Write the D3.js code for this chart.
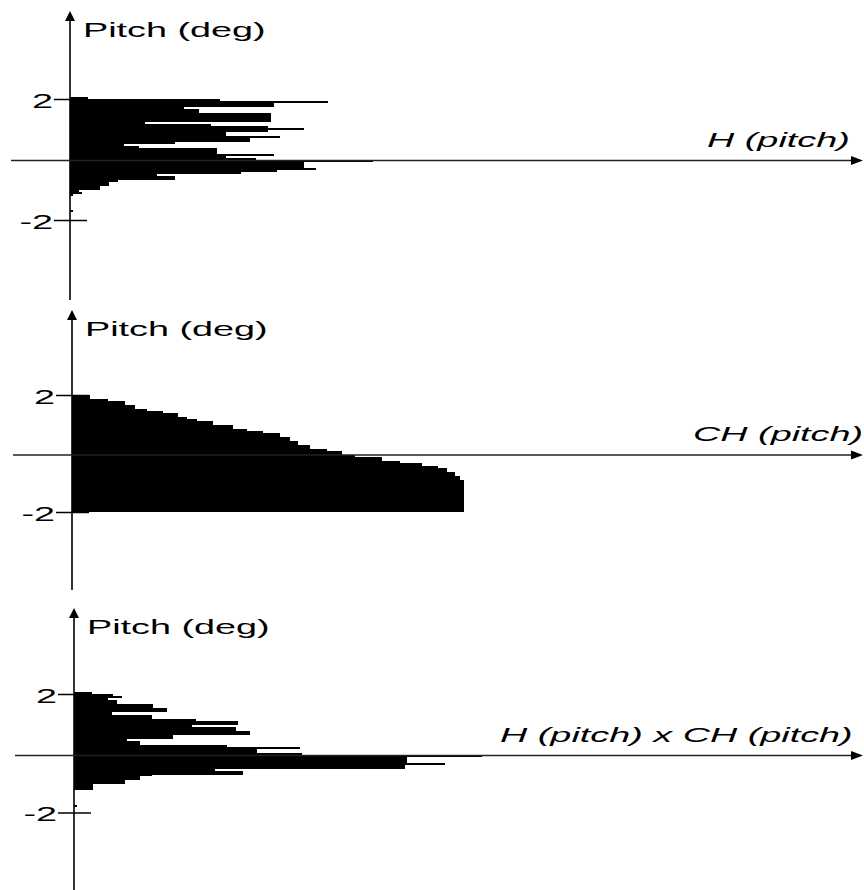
<!DOCTYPE html>
<html>
<head>
<meta charset="utf-8">
<script src="https://cdn.jsdelivr.net/npm/d3@7"></script>
<style>
  body { margin: 0; background: #fff; }
  svg { display: block; }
</style>
</head>
<body>
<svg width="864" height="890"></svg>
<script>
// pitch bins: top edge of each bin in degrees, 1/15 deg wide
const binWidth = 1 / 15;
const pitchBins = d3.range(61).map(k => (31 - k) / 15);

const tickValues = [-2, 2];

// histogram of pitch
const hPitch = [6, 50, 86, 68, 68, 38, 43, 43, 67, 67, 67, 67, 25, 47, 66, 78, 66, 52, 52, 70,
  60, 60, 35, 18, 23, 49, 49, 49, 68, 52, 62, 101, 78, 78, 78, 82, 69, 57, 29, 35,
  35, 16, 13, 13, 10, 10, 3, 4, 1, 0, 0, 0, 0, 0, 0, 0, 1, 0, 0, 0, 0];

// cumulative histogram of pitch
const chPitch = [0, 6, 6, 12, 17.7, 17.7, 21, 21, 25, 30.3, 35.3, 35.3, 38.3, 41.7, 47, 47, 53.7, 53.7, 58.3, 63.7,
  69.3, 69.3, 72.7, 72.7, 75.3, 75.3, 79.3, 79.3, 85, 90, 90, 94.3, 103.3, 103.3, 109.3, 116.7, 116.7, 122, 125, 125,
  127.7, 127.7, 129.3, 129.3, 130.7, 130.7, 130.7, 130.7, 130.7, 130.7, 130.7, 130.7, 130.7, 130.7, 130.7, 130.7, 130.7, 130.7, 130.7, 130.7, 130.7];

// product H x CH
const hxchPitch = [5.9, 13.1, 15.9, 11.4, 14.2, 14.2, 26.4, 26.4, 31.1, 31.1, 12.6, 25.9, 25.9, 40.7, 54.6, 54.6, 39.2, 54, 54, 58.7,
  58.7, 33.1, 33.1, 17.6, 22, 22, 50.9, 75.3, 60.9, 60.9, 75.9, 135.9, 110.9, 110.9, 110.9, 123.7, 110.3, 110.3, 47, 56.4,
  56.4, 25.9, 22, 22, 17, 17, 6.4, 6.4, 6.4, 0, 0, 0, 0, 0, 0, 0, 0, 1, 0, 0, 0];

const yLabel = 'Pitch (deg)';
const xLabels = ['H (pitch)', 'CH (pitch)', 'H (pitch) x CH (pitch)'];

const svg = d3.select('svg');
const width = +svg.attr('width');
const font = 'Arial, "Liberation Sans", sans-serif';
const stretch = 1.8;

const panels = [
  { values: hPitch, label: xLabels[0], ox: 70, top: 11, bottom: 300, hStart: 11, y2: 99, y0: 160.5, ym2: 220, lx: 707 },
  { values: chPitch, label: xLabels[1], ox: 72, top: 310, bottom: 590, hStart: 13, y2: 395, y0: 455, ym2: 512, lx: 693 },
  { values: hxchPitch, label: xLabels[2], ox: 74, top: 608, bottom: 892, hStart: 15, y2: 694, y0: 755.5, ym2: 812.5, lx: 500 }
];

const render = p => {
  const yScale = d3.scaleLinear()
    .domain([-2, 0, 2])
    .range([p.ym2, p.y0, p.y2]);

  const xScale = d3.scaleLinear()
    .domain([0, 100])
    .range([p.ox, p.ox + 300]);

  const g = svg.append('g');

  // bars
  g.selectAll('rect').data(pitchBins.map((t, i) => ({ top: t, v: p.values[i] })))
    .enter().append('rect')
    .filter(d => d.v > 0)
    .attr('x', xScale(0))
    .attr('y', d => yScale(d.top))
    .attr('width', d => xScale(d.v) - xScale(0))
    .attr('height', d => yScale(d.top - binWidth) - yScale(d.top))
    .attr('fill', '#000')
    .attr('shape-rendering', 'crispEdges');

  // y ticks
  const yAxis = g.append('g')
    .attr('transform', `translate(${p.ox}, 0)`)
    .call(d3.axisLeft(yScale).tickValues(tickValues).tickSize(16).tickFormat(d3.format('d')));
  yAxis.select('.domain').remove();
  yAxis.selectAll('.tick line').attr('x1', 17).attr('stroke', '#000').attr('stroke-width', 1.3);
  yAxis.selectAll('.tick text')
    .attr('x', 0)
    .attr('dy', null)
    .attr('transform', `translate(-17, 8) scale(${stretch}, 1)`)
    .attr('font-size', 21)
    .attr('font-family', font)
    .attr('fill', '#000')
    .text(d => d < 0 ? '-' + Math.abs(d) : d);

  // vertical axis with arrow
  g.append('line')
    .attr('x1', p.ox).attr('x2', p.ox)
    .attr('y1', p.top + 4).attr('y2', p.bottom)
    .attr('stroke', '#000').attr('stroke-width', 1.6);
  g.append('path')
    .attr('d', `M${p.ox},${p.top} L${p.ox - 5},${p.top + 10} L${p.ox + 5},${p.top + 10} Z`)
    .attr('fill', '#000');

  // horizontal axis with arrow
  const y0 = yScale(0);
  g.append('line')
    .attr('x1', p.hStart).attr('x2', width - 6)
    .attr('y1', y0).attr('y2', y0)
    .attr('stroke', '#222').attr('stroke-width', 1.4);
  g.append('path')
    .attr('d', `M${width - 1},${y0} L${width - 13},${y0 - 4.5} L${width - 13},${y0 + 4.5} Z`)
    .attr('fill', '#000');

  // labels
  g.append('text')
    .attr('transform', `translate(${p.ox + 13}, ${p.top + 26}) scale(${stretch}, 1)`)
    .attr('font-size', 21)
    .attr('font-family', font)
    .text(yLabel);

  g.append('text')
    .attr('transform', `translate(${p.lx}, ${y0 - 14}) scale(${stretch}, 1)`)
    .attr('font-size', 21)
    .attr('font-family', font)
    .attr('font-style', 'italic')
    .text(p.label);
};

panels.forEach(render);
</script>
</body>
</html>
